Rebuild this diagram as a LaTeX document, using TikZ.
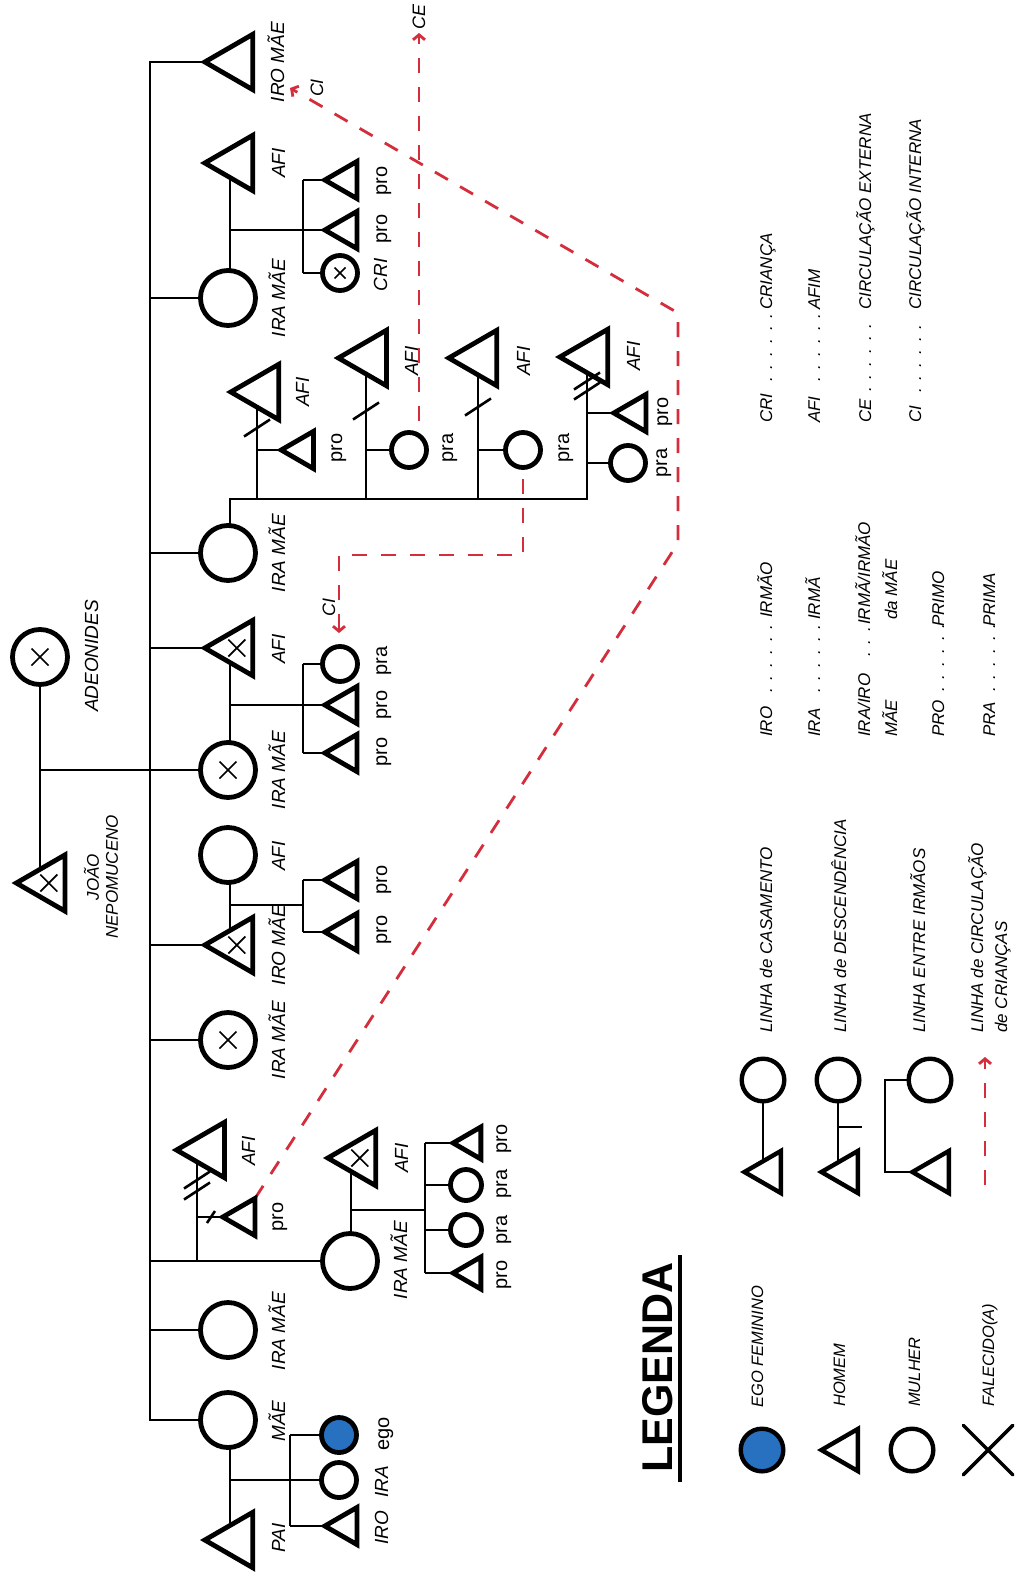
\documentclass[tikz,border=0pt]{standalone}
\usepackage{fontspec}
\setmainfont{Liberation Sans}
\usetikzlibrary{shapes.geometric,shapes.misc,arrows.meta,backgrounds}
\definecolor{egoblue}{RGB}{40,112,192}
\definecolor{circred}{RGB}{212,46,60}
\newcommand\kinfs[1]{\fontsize{#1pt}{#1pt}\selectfont}
\newcommand\sixdots{.\kern8pt.\kern8pt.\kern8pt.\kern8pt.\kern8pt.}
\newcommand\threedots{.\kern8pt.\kern8pt.}
% X mark for a deceased person, centred on a node
\newcommand\kincross[2][8.5]{%
  \draw[xmark] ([shift={(-#1pt,-#1pt)}]#2.center) -- ([shift={(#1pt,#1pt)}]#2.center)
               ([shift={(-#1pt,#1pt)}]#2.center) -- ([shift={(#1pt,-#1pt)}]#2.center);}
% separation stroke across a marriage line
\newcommand\kinslash[2]{\draw[slash] (#1,#2) +(-13,8.5) -- +(13,-8.5);}
\begin{document}
\begin{tikzpicture}[x=1pt,y=-1pt,
  conn/.style={line width=2.7pt},
  symb/.style={draw, line width=4.8pt, fill=white, inner sep=0pt, outer sep=0pt},
  bigc/.style={symb, circle, minimum size=55pt},
  smc/.style={symb, circle, minimum size=35pt},
  tnc/.style={symb, circle, minimum size=31pt},
  tri/.style={symb, regular polygon, regular polygon sides=3, shape border rotate=90},
  bigt/.style={tri, minimum size=64pt},
  smt/.style={tri, minimum size=43pt},
  tnt/.style={tri, minimum size=37pt},
  legc/.style={symb, circle, line width=4.4pt, minimum size=42.6pt},
  legt/.style={tri, line width=4.4pt, minimum size=48.6pt},
  xmark/.style={line width=1.7pt},
  slash/.style={line width=2.6pt},
  circ/.style={draw=circred, line width=2.8pt, dash pattern=on 15pt off 14pt},
  circarrow/.style={circ, -{Straight Barb[length=5pt,width=12pt]}},
  lab/.style={rotate=90, anchor=base, inner sep=0pt, font=\itshape\kinfs{19}},
  kid/.style={rotate=90, anchor=base, inner sep=0pt, font=\kinfs{20}},
  cilab/.style={rotate=90, anchor=base, inner sep=0pt, font=\itshape\kinfs{18}},
  legtxt/.style={rotate=90, anchor=base west, inner sep=0pt, font=\itshape\kinfs{17}},
  symtxt/.style={rotate=90, anchor=base west, inner sep=0pt, font=\itshape\kinfs{16.5}}]
\useasboundingbox (0,0) rectangle (1019,1573);

% ---------- founding couple ----------
\node[bigt, minimum size=65pt] (joao) at (48.8,883) {};
\node[bigc] (adeo) at (40,657) {};

% ---------- their children and descendants ----------
\node[bigt] (iro1) at (236.8,62) {};
\node[bigt] (afi2) at (236.8,163) {};
\node[bigc] (ira2) at (228,298) {};
\node[smt] (pro2a) at (346.3,180) {};
\node[smt] (pro2b) at (346.3,230) {};
\node[smc] (cri2) at (340,273) {};

\node[bigc] (ira3) at (228,553) {};
\node[bigt] (afi3a) at (262.8,392) {};
\node[bigt] (afi3b) at (370.4,358) {};
\node[bigt] (afi3c) at (480.8,358) {};
\node[bigt] (afi3d) at (591.8,357) {};
\node[smt] (pro3a) at (302.7,450) {};
\node[smc] (pra3b) at (409,450) {};
\node[smc] (pra3c) at (523,450) {};
\node[smt] (pro3d) at (635.3,413) {};
\node[smc] (pra3d) at (628,463) {};

\node[bigt] (afi4) at (236.8,648) {};
\node[bigc] (ira4) at (228,770) {};
\node[smc] (pra4) at (340,664) {};
\node[smt] (pro4a) at (346.3,705) {};
\node[smt] (pro4b) at (346.3,753) {};

\node[bigc] (afi5) at (228,855) {};
\node[bigt] (iro5) at (236.8,945) {};
\node[smt] (pro5a) at (346.3,880) {};
\node[smt] (pro5b) at (346.3,932) {};

\node[bigc] (ira6) at (228,1040) {};

\node[bigt] (afi7) at (208.5,1150) {};
\node[smt] (pro7) at (244.3,1217) {};
\node[bigc] (ira7) at (350,1261) {};
\node[bigt] (afi7b) at (359.8,1158) {};
\node[tnt] (pro7a) at (471.6,1143) {};
\node[tnc] (pra7b) at (466,1185) {};
\node[tnc] (pra7c) at (466,1230) {};
\node[tnt] (pro7d) at (471.6,1273) {};

\node[bigc] (ira8) at (228,1330) {};
\node[bigc] (mae) at (228,1420) {};
\node[bigt] (pai) at (236.8,1540) {};
\node[smc, fill=egoblue] (ego) at (339,1435) {};
\node[smc] (ira9) at (339,1480) {};
\node[smt] (iro9) at (346.3,1526) {};

% ---------- kinship lines, behind the symbols ----------
\begin{scope}[on background layer]
  \draw[conn] (adeo) -- (40,883);
  \draw[conn] (40,770) -- (ira4);
  \draw[conn] (iro1) -- (150,62) -- (150,1420) -- (mae);
  \draw[conn] (150,298) -- (ira2);
  \draw[conn] (150,553) -- (ira3);
  \draw[conn] (150,648) -- (afi4);
  \draw[conn] (150,945) -- (iro5);
  \draw[conn] (150,1040) -- (ira6);
  \draw[conn] (150,1261) -- (ira7);
  \draw[conn] (150,1330) -- (ira8);
  % family with the child CRI
  \draw[conn] (230,163) -- (230,298);
  \draw[conn] (230,230) -- (pro2b);
  \draw[conn] (303,180) -- (303,273);
  \draw[conn] (303,180) -- (pro2a);
  \draw[conn] (303,273) -- (cri2);
  % four unions
  \draw[conn] (230,553) -- (230,499) -- (587,499) -- (587,357);
  \draw[conn] (257,499) -- (257,392);
  \draw[conn] (366,499) -- (366,358);
  \draw[conn] (478,499) -- (478,358);
  \draw[conn] (257,450) -- (pro3a);
  \draw[conn] (366,450) -- (pra3b);
  \draw[conn] (478,450) -- (pra3c);
  \draw[conn] (587,413) -- (pro3d);
  \draw[conn] (587,463) -- (pra3d);
  % family under the AFI at 648
  \draw[conn] (230,648) -- (230,770);
  \draw[conn] (230,705) -- (pro4a);
  \draw[conn] (303,664) -- (303,753);
  \draw[conn] (303,664) -- (pra4);
  \draw[conn] (303,753) -- (pro4b);
  % family of the IRO MAE at 945
  \draw[conn] (230,855) -- (230,945);
  \draw[conn] (230,905) -- (303,905);
  \draw[conn] (303,880) -- (303,932);
  \draw[conn] (303,880) -- (pro5a);
  \draw[conn] (303,932) -- (pro5b);
  % lower branch
  \draw[conn] (197,1261) -- (197,1150);
  \draw[conn] (197,1217) -- (pro7);
  \draw[conn] (351,1261) -- (351,1158);
  \draw[conn] (351,1210) -- (425,1210);
  \draw[conn] (425,1143) -- (425,1273);
  \draw[conn] (425,1143) -- (pro7a);
  \draw[conn] (425,1185) -- (pra7b);
  \draw[conn] (425,1230) -- (pra7c);
  \draw[conn] (425,1273) -- (pro7d);
  % ego's family
  \draw[conn] (230,1420) -- (230,1540);
  \draw[conn] (230,1480) -- (ira9);
  \draw[conn] (290,1435) -- (290,1526);
  \draw[conn] (290,1435) -- (ego);
  \draw[conn] (290,1526) -- (iro9);
  % circulation of children
  \draw[circarrow] (pro7.corner 3) -- (678,543) -- (678,313) -- (290,88);
  \draw[circarrow] (419,450) -- (419,33);
  \draw[circarrow] (pra3c.center) -- (523,555) -- (339,555) -- (339,633);
\end{scope}

% ---------- deceased marks and separations ----------
\kincross{joao}
\kincross{adeo}
\kincross{afi4}
\kincross{ira4}
\kincross{iro5}
\kincross{ira6}
\kincross{afi7b}
\kincross[5.5]{cri2}
\kinslash{257}{428}
\kinslash{366}{411}
\kinslash{478}{407}
\kinslash{587}{381}
\kinslash{587}{391}
\kinslash{197}{1180}
\kinslash{197}{1191}
\draw[slash] (211,1217) +(-4,6) -- +(4,-6);

% ---------- names and kin terms ----------
\node[rotate=90, inner sep=0pt, align=center, font=\itshape\fontsize{17pt}{19pt}\selectfont] (tjoao) at (101,877) {JOÃO\\NEPOMUCENO};
\node[lab] (tadeo) at (98,656) {ADEONIDES};

\node[lab] (t1) at (284,62) {IRO MÃE};
\node[lab] (t2) at (285,163) {AFI};
\node[lab] (t3) at (285,298) {IRA MÃE};
\node[kid] (t4) at (387,181) {pro};
\node[kid] (t5) at (387,229) {pro};
\node[lab] (t6) at (387,275) {CRI};

\node[lab] (t7) at (285,553) {IRA MÃE};
\node[lab] (t8) at (309,392) {AFI};
\node[kid] (t9) at (342,448) {pro};
\node[lab] (t10) at (418,361) {AFI};
\node[kid] (t11) at (453,448) {pra};
\node[lab] (t12) at (530,361) {AFI};
\node[kid] (t13) at (569,448) {pra};
\node[lab] (t14) at (640,356) {AFI};
\node[kid] (t15) at (668,412) {pro};
\node[kid] (t16) at (667,463) {pra};

\node[lab] (t17) at (285,649) {AFI};
\node[lab] (t18) at (285,770) {IRA MÃE};
\node[kid] (t19) at (387,661) {pra};
\node[kid] (t20) at (387,705) {pro};
\node[kid] (t21) at (387,752) {pro};

\node[lab] (t22) at (285,856) {AFI};
\node[lab] (t23) at (285,945) {IRO MÃE};
\node[kid] (t24) at (387,880) {pro};
\node[kid] (t25) at (387,930) {pro};

\node[lab] (t26) at (285,1040) {IRA MÃE};

\node[lab] (t27) at (255,1151) {AFI};
\node[kid] (t28) at (283,1217) {pro};
\node[lab] (t29) at (408,1158) {AFI};
\node[lab] (t30) at (407,1260) {IRA MÃE};
\node[kid] (t31) at (507,1139) {pro};
\node[kid] (t32) at (507,1184) {pra};
\node[kid] (t33) at (507,1230) {pra};
\node[kid] (t34) at (507,1275) {pro};

\node[lab] (t35) at (285,1331) {IRA MÃE};
\node[lab] (t36) at (285,1421) {MÃE};
\node[lab] (t37) at (285,1538) {PAI};
\node[kid] (t38) at (389,1434) {ego};
\node[lab] (t39) at (388,1482) {IRA};
\node[lab] (t40) at (388,1528) {IRO};

\node[cilab] (tci1) at (323,88) {CI};
\node[cilab] (tce) at (425,17) {CE};
\node[cilab] (tci2) at (335,607) {CI};

% ---------- legend ----------
\node[rotate=90, anchor=base west, inner sep=0pt, font=\bfseries\kinfs{43}] (legtitle) at (672,1473) {LEGENDA};
\draw[line width=3.5pt] (680,1482) -- (680,1255);

\node[legc, fill=egoblue] (lego) at (762,1450) {};
\node[legt] (lhom) at (845.7,1450) {};
\node[legc] (lmul) at (912,1450) {};
\node[cross out, draw, line width=3.5pt, line cap=round, minimum size=46pt, inner sep=0pt] (lfal) at (988,1450) {};
\node[symtxt] (tego) at (763,1408) {EGO FEMININO};
\node[symtxt] (thom) at (845,1407) {HOMEM};
\node[symtxt] (tmul) at (920,1407) {MULHER};
\node[symtxt] (tfal) at (994,1407) {FALECIDO(A)};

\node[legc] (lc1) at (763,1080) {};
\node[legt] (lt1) at (768.7,1172) {};
\node[legc] (lc2) at (838,1080) {};
\node[legt] (lt2) at (845.7,1172) {};
\node[legc] (lc3) at (930,1080) {};
\node[legt] (lt3) at (936.7,1172) {};
\begin{scope}[on background layer]
  \draw[conn] (lc1) -- (763,1172);
  \draw[conn] (lc2) -- (838,1172);
  \draw[conn] (838,1127) -- (862,1127);
  \draw[conn] (lc3) -- (885,1080) -- (885,1172) -- (lt3);
\end{scope}
\coordinate (larrowtail) at (985,1185);
\coordinate (larrowtip) at (985,1057);
\draw[circarrow] (larrowtail) -- (larrowtip);
\node[legtxt] (tl1) at (772,1033) {LINHA de CASAMENTO};
\node[legtxt] (tl2) at (846,1033) {LINHA de DESCENDÊNCIA};
\node[legtxt] (tl3) at (925,1033) {LINHA ENTRE IRMÃOS};
\node[legtxt] (tl4) at (983,1033) {LINHA de CIRCULAÇÃO};
\node[legtxt] (tl5) at (1007,1033) {de CRIANÇAS};

% abbreviations
\node[legtxt] (a1) at (772,737) {IRO};
\node[legtxt] (d1) at (772,693) {\sixdots};
\node[legtxt] (m1) at (772,618) {IRMÃO};
\node[legtxt] (a2) at (820,737) {IRA};
\node[legtxt] (d2) at (820,693) {\sixdots};
\node[legtxt] (m2) at (820,620) {IRMÃ};
\node[legtxt] (a3) at (870,737) {IRA/IRO};
\node[legtxt] (d3) at (870,657) {\threedots};
\node[legtxt] (m3) at (870,625) {IRMÃ/IRMÃO};
\node[legtxt] (a3b) at (897,737) {MÃE};
\node[legtxt] (m3b) at (897,620) {da MÃE};
\node[legtxt] (a4) at (944,737) {PRO};
\node[legtxt] (d4) at (944,692) {\sixdots};
\node[legtxt] (m4) at (944,627) {PRIMO};
\node[legtxt] (a5) at (995,737) {PRA};
\node[legtxt] (d5) at (995,692) {\sixdots};
\node[legtxt] (m5) at (995,627) {PRIMA};

\node[legtxt] (b1) at (772,423) {CRI};
\node[legtxt] (e1) at (772,382) {\sixdots};
\node[legtxt] (n1) at (772,310) {CRIANÇA};
\node[legtxt] (b2) at (820,423) {AFI};
\node[legtxt] (e2) at (820,382) {\sixdots};
\node[legtxt] (n2) at (820,310) {AFIM};
\node[legtxt] (b3) at (871,423) {CE};
\node[legtxt] (e3) at (871,392) {\sixdots};
\node[legtxt] (n3) at (871,310) {CIRCULAÇÃO EXTERNA};
\node[legtxt] (b4) at (921,423) {CI};
\node[legtxt] (e4) at (921,393) {\sixdots};
\node[legtxt] (n4) at (921,310) {CIRCULAÇÃO INTERNA};
\end{tikzpicture}
\end{document}
